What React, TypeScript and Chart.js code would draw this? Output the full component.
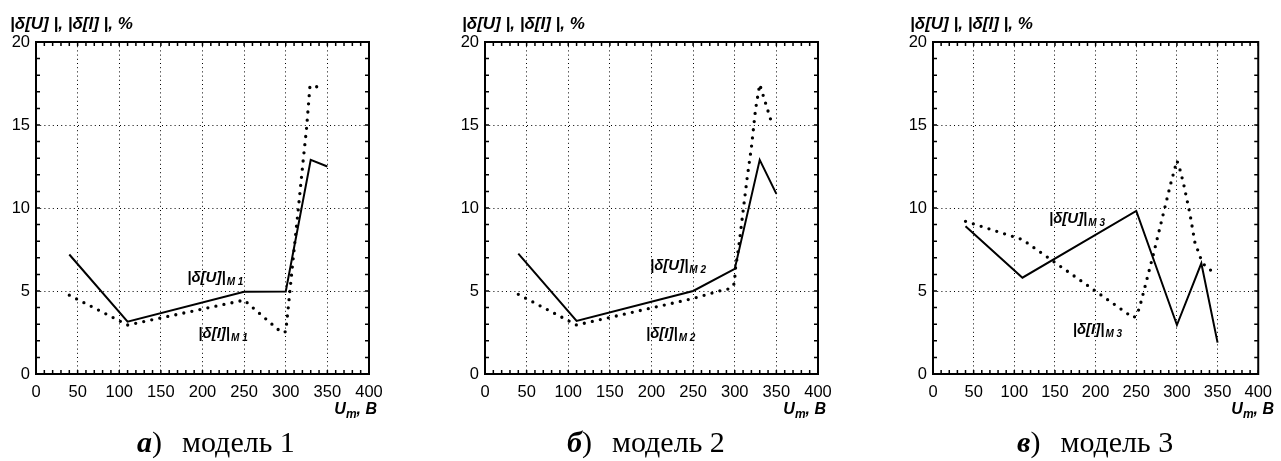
import React, { useEffect, useRef } from 'react';
import { Chart, registerables } from 'chart.js';

Chart.register(...registerables);

// ---- axis ticks ----
const X_TICKS = [0, 50, 100, 150, 200, 250, 300, 350, 400];
const Y_TICKS = [0, 5, 10, 15, 20];
const X_MINOR = [0, 10, 20, 30, 40, 50, 60, 70, 80, 90, 100, 110, 120, 130, 140, 150, 160, 170, 180, 190, 200, 210, 220, 230, 240, 250, 260, 270, 280, 290, 300, 310, 320, 330, 340, 350, 360, 370, 380, 390, 400];
const Y_MINOR = [0, 1, 2, 3, 4, 5, 6, 7, 8, 9, 10, 11, 12, 13, 14, 15, 16, 17, 18, 19, 20];

// ---- model 1 ----
const U_M1_X = [40, 110, 250, 300, 330, 350];
const U_M1_Y = [7.2, 3.15, 4.95, 4.97, 12.9, 12.5];
const I_M1_X = [40, 110, 250, 295, 300, 303, 309, 315, 321, 325, 329, 334, 344];
const I_M1_Y = [4.75, 2.95, 4.45, 2.5, 2.55, 4.0, 7.0, 9.9, 12.9, 14.8, 17.3, 17.4, 17.1];

// ---- model 2 ----
const U_M2_X = [40, 110, 250, 300, 330, 350];
const U_M2_Y = [7.25, 3.2, 5.0, 6.33, 12.9, 10.85];
const I_M2_X = [40, 110, 250, 285, 295, 299.5, 301, 305, 310, 315, 320, 325, 330, 345.5];
const I_M2_Y = [4.8, 2.95, 4.55, 5.05, 5.15, 5.45, 6.4, 7.75, 9.8, 11.85, 13.65, 15.95, 17.45, 14.95];

// ---- model 3 ----
const U_M3_X = [40, 110, 250, 300, 330, 350];
const U_M3_Y = [8.9, 5.8, 9.82, 2.95, 6.67, 1.89];
const I_M3_X = [40, 110, 246, 250, 254, 262, 272, 282, 292, 300, 303, 308, 316, 322, 329, 334, 344];
const I_M3_Y = [9.2, 8.1, 3.4, 3.5, 4.0, 5.5, 7.4, 9.4, 11.4, 12.85, 12.45, 11.5, 9.65, 7.95, 7.0, 6.55, 6.15];

// ---- in-plot labels (data coordinates of left/baseline) ----
const LABELS_M1 = [
  { main: '|δ[U]|', sub: 'M 1', x: 181.7, y: 5.56 },
  { main: '|δ[I]|', sub: 'M 1', x: 195, y: 2.15 },
];
const LABELS_M2 = [
  { main: '|δ[U]|', sub: 'M 2', x: 198.2, y: 6.27 },
  { main: '|δ[I]|', sub: 'M 2', x: 193.4, y: 2.19 },
];
const LABELS_M3 = [
  { main: '|δ[U]|', sub: 'M 3', x: 142.6, y: 9.11 },
  { main: '|δ[I]|', sub: 'M 3', x: 171.8, y: 2.39 },
];

const SANS = '"Liberation Sans", Arial, sans-serif';
const SERIF = '"Liberation Serif", "Times New Roman", serif';

const framePlugin = {
  id: 'frameTicks',
  afterDraw(chart: any, _args: any, opts: any) {
    const { ctx, chartArea: a, scales } = chart;
    const x = scales.x;
    const y = scales.y;
    ctx.save();
    ctx.strokeStyle = '#000';
    ctx.lineWidth = 1.5;
    ctx.setLineDash([]);
    ctx.beginPath();
    X_MINOR.forEach((v) => {
      const px = x.getPixelForValue(v);
      ctx.moveTo(px, a.bottom);
      ctx.lineTo(px, a.bottom - 4);
      ctx.moveTo(px, a.top);
      ctx.lineTo(px, a.top + 4);
    });
    Y_MINOR.forEach((v) => {
      const py = y.getPixelForValue(v);
      ctx.moveTo(a.left, py);
      ctx.lineTo(a.left + 4, py);
      ctx.moveTo(a.right, py);
      ctx.lineTo(a.right - 4, py);
    });
    ctx.stroke();
    ctx.lineWidth = 2;
    ctx.strokeRect(a.left, a.top, a.right - a.left, a.bottom - a.top);

    ctx.fillStyle = '#000';
    ctx.textBaseline = 'alphabetic';
    ctx.textAlign = 'left';
    (opts.labels || []).forEach((l: any) => {
      const px = x.getPixelForValue(l.x);
      const py = y.getPixelForValue(l.y);
      ctx.font = `italic bold 15px ${SANS}`;
      ctx.fillText(l.main, px, py);
      const w = ctx.measureText(l.main).width;
      ctx.font = `italic bold 10px ${SANS}`;
      ctx.fillText(l.sub, px + w + 1, py + 3);
    });
    ctx.restore();
  },
};

type PanelProps = {
  left: number;
  width: number;
  uX: number[];
  uY: number[];
  iX: number[];
  iY: number[];
  labels: any[];
  letter: string;
  caption: string;
  titleLeft: number;
  captionLeft: number;
};

function Panel(p: PanelProps) {
  const ref = useRef<HTMLCanvasElement>(null);
  useEffect(() => {
    const canvas = ref.current!;
    const chart = new Chart(canvas, {
      type: 'line',
      data: {
        datasets: [
          {
            data: p.uX.map((v, i) => ({ x: v, y: p.uY[i] })),
            borderColor: '#000',
            borderWidth: 2,
            pointRadius: 0,
            fill: false,
            tension: 0,
          },
          {
            data: p.iX.map((v, i) => ({ x: v, y: p.iY[i] })),
            borderColor: '#000',
            borderWidth: 3.3,
            borderDash: [0, 8.2],
            borderCapStyle: 'round',
            pointRadius: 0,
            fill: false,
            tension: 0,
          },
        ],
      },
      options: {
        responsive: false,
        animation: false,
        events: [],
        layout: { padding: { left: 0, top: 42, right: p.width - 369, bottom: 57 } },
        plugins: {
          legend: { display: false },
          tooltip: { enabled: false },
          frameTicks: { labels: p.labels },
        } as any,
        scales: {
          x: {
            type: 'linear',
            min: X_TICKS[0],
            max: X_TICKS[X_TICKS.length - 1],
            afterBuildTicks: (s: any) => {
              s.ticks = X_TICKS.map((value) => ({ value }));
            },
            afterFit: (s: any) => {
              s.height = 30;
            },
            ticks: {
              autoSkip: false,
              maxRotation: 0,
              color: '#000',
              padding: 9,
              font: { family: SANS, size: 16.5 },
            },
            grid: {
              drawTicks: false,
              lineWidth: 1,
              color: (c: any) =>
                c.tick && (c.tick.value === X_TICKS[0] || c.tick.value === X_TICKS[X_TICKS.length - 1])
                  ? 'rgba(0,0,0,0)'
                  : '#000',
            },
            border: { display: false, dash: [1, 3.2] },
          },
          y: {
            type: 'linear',
            min: Y_TICKS[0],
            max: Y_TICKS[Y_TICKS.length - 1],
            afterBuildTicks: (s: any) => {
              s.ticks = Y_TICKS.map((value) => ({ value }));
            },
            afterFit: (s: any) => {
              s.width = 36;
            },
            ticks: {
              autoSkip: false,
              color: '#000',
              padding: 6,
              font: { family: SANS, size: 16.5 },
            },
            grid: {
              drawTicks: false,
              lineWidth: 1,
              color: (c: any) =>
                c.tick && (c.tick.value === Y_TICKS[0] || c.tick.value === Y_TICKS[Y_TICKS.length - 1])
                  ? 'rgba(0,0,0,0)'
                  : '#000',
            },
            border: { display: false, dash: [1, 3.2] },
          },
        },
      } as any,
      plugins: [framePlugin as any],
    });
    return () => chart.destroy();
  }, []);

  return (
    <div style={{ position: 'absolute', left: p.left, top: 0, width: p.width, height: 461 }}>
      <canvas ref={ref} width={p.width} height={461} style={{ display: 'block' }} />
      <div
        style={{
          position: 'absolute',
          left: p.titleLeft,
          top: 15,
          font: `italic bold 17px ${SANS}`,
          lineHeight: '17px',
          whiteSpace: 'nowrap',
          color: '#000',
        }}
      >
        |δ[U] |, |δ[I] |, %
      </div>
      <div
        style={{
          position: 'absolute',
          left: 0,
          width: 377,
          top: 401,
          textAlign: 'right',
          font: `italic bold 16px ${SANS}`,
          lineHeight: '16px',
          whiteSpace: 'nowrap',
          color: '#000',
        }}
      >
        U<sub style={{ fontSize: '12px', verticalAlign: '-4px' }}>m</sub>, B
      </div>
      <div
        style={{
          position: 'absolute',
          left: p.captionLeft,
          top: 427,
          font: `30px ${SERIF}`,
          lineHeight: '30px',
          whiteSpace: 'nowrap',
          color: '#000',
        }}
      >
        <span style={{ fontWeight: 'bold', fontStyle: 'italic' }}>{p.letter}</span>)
        <span style={{ marginLeft: 20 }}>{p.caption}</span>
      </div>
    </div>
  );
}

export default function App() {
  return (
    <div
      style={{
        position: 'absolute',
        left: 0,
        top: 0,
        width: 1281,
        height: 461,
        overflow: 'hidden',
        background: '#fff',
      }}
    >
      <Panel left={0} width={449} uX={U_M1_X} uY={U_M1_Y} iX={I_M1_X} iY={I_M1_Y} labels={LABELS_M1} letter="а" caption="модель 1" titleLeft={10} captionLeft={137} />
      <Panel left={449} width={449} uX={U_M2_X} uY={U_M2_Y} iX={I_M2_X} iY={I_M2_Y} labels={LABELS_M2} letter="б" caption="модель 2" titleLeft={13} captionLeft={118} />
      <Panel left={897} width={384} uX={U_M3_X} uY={U_M3_Y} iX={I_M3_X} iY={I_M3_Y} labels={LABELS_M3} letter="в" caption="модель 3" titleLeft={13} captionLeft={120} />
    </div>
  );
}
